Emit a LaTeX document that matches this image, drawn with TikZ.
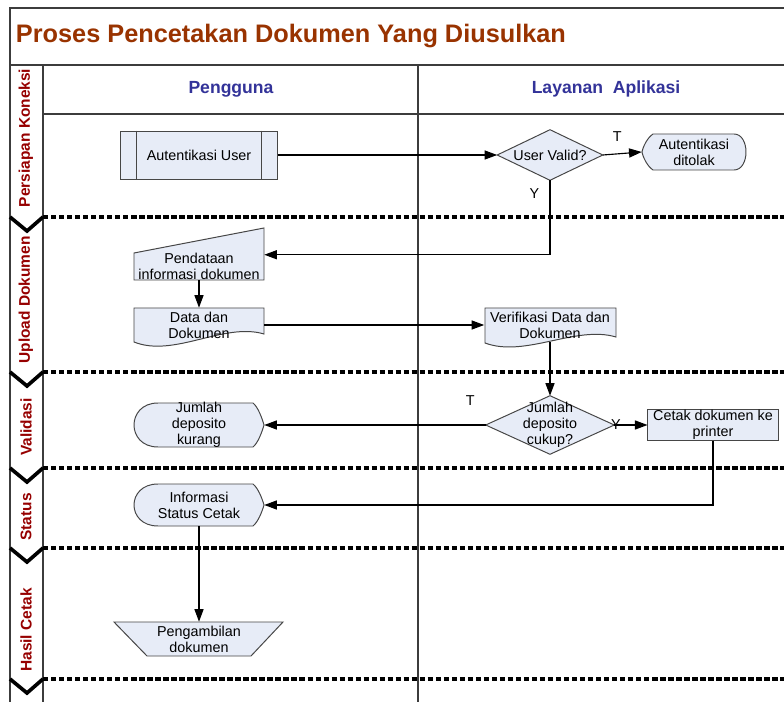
\documentclass[tikz,border=0pt]{standalone}
\usepackage{fontspec}
\setmainfont{Liberation Sans}
\usetikzlibrary{arrows.meta,backgrounds,calc}
\definecolor{shapefill}{RGB}{231,236,247}
\definecolor{shapeline}{RGB}{70,70,70}
\definecolor{titlebrown}{RGB}{153,51,0}
\definecolor{lanered}{RGB}{150,0,0}
\definecolor{headblue}{RGB}{51,51,153}
\definecolor{framegrey}{RGB}{60,60,60}

\begin{document}
\begin{tikzpicture}[x=0.025cm, y=-0.025cm, every node/.style={font=\fontsize{10.2}{11.5}\selectfont}]
\tikzstyle{box}=[inner sep=0pt, align=center]
\tikzstyle{shp}=[fill=shapefill, draw=shapeline, line width=0.7pt]
\tikzstyle{flow}=[draw, line width=0.8pt, -{Triangle[length=9pt,width=6.5pt]}]
\tikzstyle{frame}=[draw=framegrey, line width=0.9pt]
\tikzstyle{sep}=[line width=2.5pt, dash pattern=on 3.8pt off 1.9pt]
\tikzstyle{chev}=[line width=2.6pt, miter limit=10]
\tikzstyle{lane}=[rotate=90, text=lanered, font=\fontsize{11}{13}\selectfont\bfseries]
\tikzstyle{head}=[text=headblue, font=\fontsize{12.5}{14}\selectfont\bfseries]

\useasboundingbox (0,0) rectangle (784,702);

\draw[frame] (784,8) -- (10,8) -- (10,702);
\draw[frame] (10,65) -- (784,65);
\draw[frame] (43,114) -- (784,114);
\draw[frame] (43,65) -- (43,702);
\draw[frame] (418,65) -- (418,702);

\node[anchor=west, text=titlebrown, font=\fontsize{18}{20}\selectfont\bfseries] (title) at (11,36) {Proses Pencetakan Dokumen Yang Diusulkan};
\node[head] (pengguna) at (231,89) {Pengguna};
\node[head] (layanan) at (606,89) {Layanan\ \ Aplikasi};

\foreach \y in {217,372,468,548,679} {
  \draw[sep] (43,\y) -- (784,\y);
  \draw[chev] (10,\y) -- (27,\y+14) -- (43,\y);
}

\node[lane] (lkoneksi) at (26,138) {Persiapan Koneksi};
\node[lane] (lupload) at (26,300) {Upload Dokumen};
\node[lane] (lvalidasi) at (26,427) {Validasi};
\node[lane] (lstatus) at (26,517) {Status};
\node[lane] (lhasil) at (26,630) {Hasil Cetak};

\node[box, shp, minimum width=3.9cm, minimum height=1.2cm] (auth) at (199,155) {Autentikasi User};
\draw[shapeline, line width=0.7pt] ($(auth.north west)+(16,0)$) -- ($(auth.south west)+(16,0)$);
\draw[shapeline, line width=0.7pt] ($(auth.north east)+(-16,0)$) -- ($(auth.south east)+(-16,0)$);
\node[box, minimum width=2.625cm, minimum height=1.25cm] (valid) at (550,155) {User Valid?};
\node[box, minimum width=2.6cm, minimum height=0.9cm] (ditolak) at (694,152) {Autentikasi\\ditolak};
\node[box, minimum width=3.25cm, minimum height=0.7cm] (input) at (199,266) {Pendataan\\informasi dokumen};
\node[box, minimum width=3.25cm, minimum height=0.85cm] (data) at (199,325) {Data dan\\Dokumen};
\node[box, minimum width=3.275cm, minimum height=0.85cm] (verif) at (550,325) {Verifikasi Data dan\\Dokumen};
\node[box, minimum width=3.2cm, minimum height=1.45cm] (cukup) at (550,425) {Jumlah\\deposito\\cukup?};
\node[box, shp, minimum width=3.25cm, minimum height=0.775cm] (cetak) at (713,425) {Cetak dokumen ke\\printer};
\node[box, minimum width=3.25cm, minimum height=1.1cm] (kurang) at (199,425) {Jumlah\\deposito\\kurang};
\node[box, minimum width=3.25cm, minimum height=1.05cm] (info) at (199,505) {Informasi\\Status Cetak};
\node[box, minimum width=4.225cm, minimum height=0.85cm] (ambil) at (199,639) {Pengambilan\\dokumen};

\begin{pgfonlayer}{background}
\fill[white] (0,0) rectangle (784,702);
\draw[shp] (valid.north) -- (valid.east) -- (valid.south) -- (valid.west) -- cycle;
\draw[shp] (cukup.north) -- (cukup.east) -- (cukup.south) -- (cukup.west) -- cycle;
\draw[shp, shift={(ditolak.center)}] (-41,-18) -- (40,-18) .. controls (56,-18) and (56,18) .. (40,18) -- (-41,18) .. controls (-47,14) and (-51,5) .. (-52,0) .. controls (-51,-5) and (-47,-14) .. (-41,-18) -- cycle;
\draw[shp, shift={(kurang.center)}] (-41,-22) -- (54,-22) .. controls (59,-18) and (63,-7) .. (65,0) .. controls (63,7) and (59,18) .. (54,22) -- (-41,22) .. controls (-73,22) and (-73,-22) .. (-41,-22) -- cycle;
\draw[shp, shift={(info.center)}] (-41,-21) -- (54,-21) .. controls (59,-17) and (63,-7) .. (65,0) .. controls (63,7) and (59,17) .. (54,21) -- (-41,21) .. controls (-73,21) and (-73,-21) .. (-41,-21) -- cycle;
\draw[shp, shift={(input.center)}] (-65,-13) -- (65,-38) -- (65,14) -- (-65,14) -- cycle;
\draw[shp, shift={(data.center)}] (-65,-17) -- (65,-17) -- (65,9) .. controls (25,-3) and (-25,33) .. (-65,17) -- cycle;
\draw[shp, shift={(verif.center)}] (-65,-17) -- (66,-17) -- (66,12) .. controls (26,0) and (-25,33) .. (-65,18) -- cycle;
\draw[shp, shift={(ambil.center)}] (-85,-17) -- (84,-17) -- (52,17) -- (-52,17) -- cycle;
\end{pgfonlayer}

\draw[flow] (auth) -- (valid);
\draw[flow] (valid.east) -- node[pos=0.37, above=5pt]{T} (ditolak.west);
\draw[flow] (valid.south) |- node[pos=0.09, left=4pt]{Y} ([yshift=8pt]input.east);
\draw[flow] (input) -- (data);
\draw[flow] (data) -- (verif);
\draw[flow] (verif) -- (cukup);
\draw[flow] (cukup) -- node[pos=0.07, above=10pt]{T} (kurang);
\draw[flow] (cukup) -- node[pos=0.05, inner sep=0pt]{Y} (cetak);
\draw[flow] (cetak.south) |- (info.east);
\draw[flow] (info) -- (ambil);
\end{tikzpicture}
\end{document}
